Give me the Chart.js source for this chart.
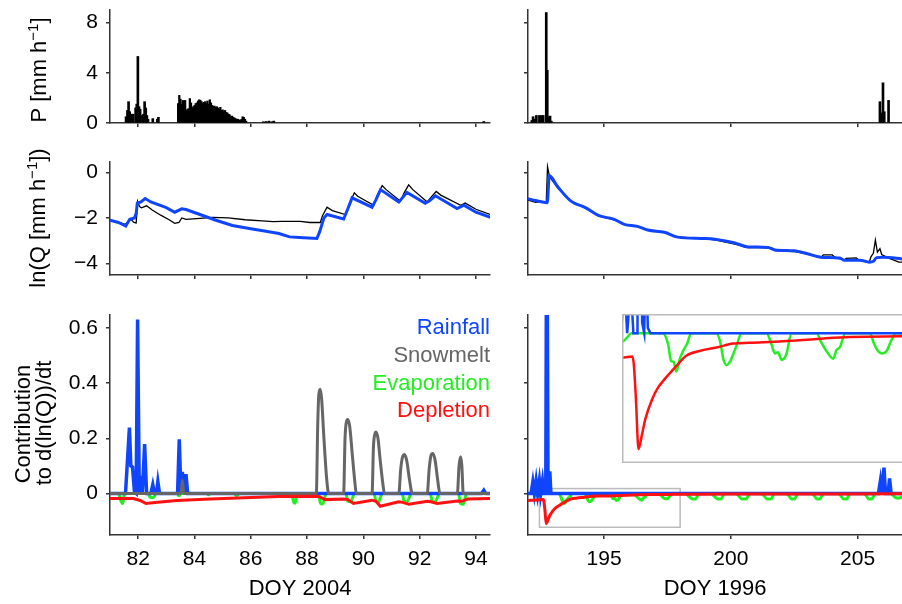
<!DOCTYPE html>
<html>
<head>
<meta charset="utf-8">
<script src="https://cdn.jsdelivr.net/npm/chart.js@4.4.1/dist/chart.umd.min.js"></script>
<style>
html, body { margin: 0; padding: 0; background: #fff; overflow: hidden; }
#wrap { position: relative; width: 902px; height: 604px; overflow: hidden; }
canvas { position: absolute; }
</style>
</head>
<body>
<div id="wrap">
  <canvas id="pLeft"></canvas>
  <canvas id="pRight"></canvas>
  <canvas id="qLeft"></canvas>
  <canvas id="qRight"></canvas>
  <canvas id="cLeft"></canvas>
  <canvas id="cRight"></canvas>
  <canvas id="cInset"></canvas>
</div>
<script>
// ---- tick labels ----
const ticks04 = [82, 84, 86, 88, 90, 92, 94];
const ticks96 = [195, 200, 205];
const pTicks = [0, 4, 8];
const qTicks = [-4, -2, 0];
const cTicks = [0, 0.2, 0.4, 0.6];

// ---- precipitation, 2004 (single showers) ----
const pDay04 = [81.57, 81.62, 81.66, 81.70, 81.78, 81.82, 81.91, 81.95, 81.99, 82.03, 82.07, 82.15, 82.19, 82.23, 82.27, 82.31, 82.35, 82.52, 82.68, 82.72, 86.45, 86.55, 86.65, 86.75, 86.82, 94.28];
const pVal04 = [0.5, 1.0, 1.7, 0.9, 0.7, 0.7, 1.2, 1.5, 5.3, 1.3, 1.1, 0.6, 0.7, 1.7, 1.2, 0.6, 0.3, 0.35, 0.3, 0.45, 0.1, 0.12, 0.15, 0.1, 0.15, 0.12];
// hourly block, 2004, starting at DOY 83.42
const pHourStart04 = 83.42;
const pHourly04 = [1.55, 2.2, 1.9, 1.5, 1.8, 1.75, 1.8, 1.0, 1.1, 1.15, 1.95, 1.6, 1.2, 1.3, 1.4, 1.55, 1.6, 1.75, 1.85, 1.8,
  1.7, 1.55, 1.65, 1.7, 1.55, 1.75, 1.5, 1.85, 1.6, 1.4, 1.3, 1.35, 1.25, 1.3, 1.2, 1.1, 1.25, 1.0, 1.05, 0.9,
  1.0, 0.85, 0.8, 0.7, 0.65, 0.5, 0.55, 0.45, 0.4, 0.35, 0.3, 0.3, 0.25, 0.2, 0.3, 0.5, 0.45, 0.3, 0.15];

// ---- precipitation, 1996 ----
const pDay96 = [192.15, 192.20, 192.27, 192.33, 192.45, 192.53, 192.60, 192.72, 192.76, 192.82, 192.87, 192.92, 205.88, 205.95, 206.00, 206.05, 206.22];
const pVal96 = [0.2, 0.5, 0.3, 0.6, 0.6, 0.6, 0.6, 8.8, 4.2, 0.5, 0.55, 0.15, 1.7, 0.8, 3.2, 0.9, 1.8];

// ---- ln(Q), 2004 ----
const qObsDay04 = [81.0, 81.3, 81.55, 81.65, 81.75, 81.85, 81.93, 81.98, 82.05, 82.12, 82.3, 82.5, 82.8, 83.1, 83.3, 83.45, 83.55, 83.7, 84.2, 84.64, 85.2, 85.8, 86.4, 86.8, 87.1, 87.76, 88.1, 88.47, 88.55, 88.71, 88.9, 89.36, 89.5, 89.68, 89.8, 90.37, 90.5, 90.67, 90.8, 91.32, 91.45, 91.61, 91.75, 92.27, 92.4, 92.59, 92.75, 93.46, 93.62, 94.0, 94.5];
const qObs04 = [-2.1, -2.2, -2.28, -2.15, -2.07, -2.2, -2.22, -1.27, -1.5, -1.56, -1.47, -1.65, -1.88, -2.08, -2.24, -2.2, -2.0, -2.06, -2.02, -1.98, -2.0, -2.08, -2.13, -2.16, -2.15, -2.15, -2.2, -2.2, -1.9, -1.53, -1.68, -1.85, -1.4, -0.9, -1.05, -1.45, -1.0, -0.58, -0.75, -1.27, -0.9, -0.55, -0.75, -1.3, -1.1, -0.84, -1.0, -1.45, -1.35, -1.62, -1.85];
const qModDay04 = [81.0, 81.3, 81.56, 81.7, 81.87, 81.93, 81.97, 82.1, 82.25, 82.45, 83.0, 83.3, 83.55, 83.7, 84.17, 84.76, 85.35, 85.95, 86.54, 87.0, 87.38, 87.73, 88.35, 88.45, 88.6, 88.71, 89.3, 89.45, 89.6, 90.31, 90.45, 90.61, 91.26, 91.4, 91.55, 92.2, 92.35, 92.56, 93.33, 93.57, 94.0, 94.52];
const qMod04 = [-2.1, -2.2, -2.36, -2.06, -2.0, -1.8, -1.35, -1.3, -1.15, -1.3, -1.55, -1.75, -1.6, -1.63, -1.84, -2.1, -2.33, -2.46, -2.58, -2.68, -2.83, -2.86, -2.9, -2.6, -2.0, -1.85, -2.05, -1.6, -1.12, -1.53, -1.2, -0.76, -1.3, -1.1, -0.88, -1.36, -1.25, -1.03, -1.59, -1.44, -1.75, -1.97];

// ---- ln(Q), 1996 ----
const qObsDay96 = [192.0, 192.3, 192.5, 192.72, 192.77, 192.85, 193.2, 193.75, 194.28, 194.74, 195.4, 195.8, 196.32, 196.72, 197.38, 197.9, 198.85, 199.37, 200.16, 200.68, 201.47, 201.74, 202.5, 203.02, 203.55, 203.65, 204.0, 204.1, 204.47, 204.55, 204.95, 205.05, 205.46, 205.53, 205.62, 205.7, 205.78, 205.88, 205.95, 206.2, 206.63, 206.8];
const qObs96 = [-1.22, -1.32, -1.28, -1.3, 0.24, -0.2, -0.73, -1.31, -1.57, -1.9, -2.09, -2.28, -2.38, -2.53, -2.63, -2.83, -2.91, -2.96, -3.15, -3.3, -3.3, -3.43, -3.47, -3.59, -3.74, -3.62, -3.62, -3.72, -3.85, -3.77, -3.75, -3.85, -3.94, -3.69, -3.55, -2.97, -3.5, -3.35, -3.6, -3.75, -3.94, -3.94];
const qModDay96 = [192.0, 192.3, 192.76, 192.84, 193.15, 193.68, 194.28, 194.8, 195.4, 195.8, 196.32, 196.72, 197.38, 197.9, 198.85, 199.37, 200.16, 200.68, 201.47, 201.74, 202.5, 203.02, 203.55, 204.3, 204.47, 205.1, 205.46, 205.62, 205.75, 206.0, 206.8];
const qMod96 = [-1.16, -1.24, -1.33, -0.14, -0.6, -1.25, -1.56, -1.9, -2.06, -2.28, -2.37, -2.53, -2.63, -2.84, -2.9, -2.93, -3.1, -3.27, -3.29, -3.4, -3.44, -3.57, -3.72, -3.76, -3.85, -3.85, -3.94, -3.9, -3.74, -3.72, -3.8];

// ---- contributions to d(ln(Q))/dt, 2004 ----
const rainDay04 = [81.0, 81.55, 81.69, 81.74, 81.8, 81.87, 81.93, 81.98, 82.04, 82.1, 82.15, 82.23, 82.3, 82.45, 82.52, 82.58, 82.65, 82.7, 82.76, 83.4, 83.46, 83.52, 83.57, 83.63, 83.7, 83.76, 94.2, 94.28, 94.35, 94.5];
const rain04 = [0, 0, 0.239, 0.1, 0.096, 0.005, 0, 0.63, 0.005, 0.064, 0.005, 0.179, 0, 0, 0.032, 0, 0, 0.043, 0, 0, 0.196, 0.005, 0.078, 0.005, 0.07, 0, 0, 0.012, 0, 0];
const snowDay04 = [81.0, 83.52, 83.57, 83.62, 88.33, 88.38, 88.42, 88.47, 88.52, 88.6, 88.7, 88.77, 89.3, 89.35, 89.4, 89.45, 89.52, 89.6, 89.7, 89.75, 90.31, 90.36, 90.41, 90.45, 90.52, 90.6, 90.7, 90.75, 91.26, 91.33, 91.4, 91.46, 91.54, 91.64, 91.74, 92.27, 92.34, 92.41, 92.47, 92.55, 92.64, 92.72, 93.34, 93.4, 93.46, 93.5, 93.55, 94.5];
const snow04 = [0, 0, 0.048, 0, 0, 0.25, 0.36, 0.377, 0.34, 0.2, 0.05, 0, 0, 0.2, 0.26, 0.268, 0.24, 0.15, 0.04, 0, 0, 0.17, 0.215, 0.223, 0.2, 0.12, 0.03, 0, 0, 0.09, 0.135, 0.141, 0.12, 0.05, 0, 0, 0.09, 0.14, 0.145, 0.12, 0.05, 0, 0, 0.1, 0.133, 0.1, 0, 0];
const evapDay04 = [81.0, 81.3, 81.4, 81.45, 81.52, 82.35, 82.42, 82.5, 82.58, 82.62, 83.38, 83.45, 83.52, 84.42, 84.5, 84.58, 85.4, 85.5, 85.6, 87.45, 87.52, 87.58, 87.65, 88.4, 88.48, 88.55, 88.62, 88.67, 89.38, 89.45, 89.55, 89.62, 89.68, 90.38, 90.45, 90.55, 90.62, 90.67, 91.38, 91.45, 91.55, 91.65, 91.7, 92.38, 92.45, 92.55, 92.65, 92.7, 93.38, 93.45, 93.55, 93.63, 93.68, 94.5];
const evap04 = [0, 0, -0.03, -0.036, 0, 0, -0.012, -0.015, -0.01, 0, 0, -0.008, 0, 0, -0.004, 0, 0, -0.008, 0, 0, -0.03, -0.035, 0, 0, -0.035, -0.038, -0.02, 0, 0, -0.028, -0.03, -0.015, 0, 0, -0.028, -0.03, -0.01, 0, 0, -0.028, -0.03, -0.01, 0, 0, -0.03, -0.03, -0.01, 0, 0, -0.035, -0.039, -0.01, 0, 0];
const deplDay04 = [81.0, 81.83, 82.07, 82.28, 82.6, 83.37, 84.56, 86.0, 87.0, 88.3, 88.45, 88.65, 89.3, 89.45, 89.65, 90.31, 90.45, 90.6, 91.26, 91.4, 91.62, 92.27, 92.4, 92.62, 93.34, 93.5, 93.7, 94.53];
const depl04 = [-0.018, -0.018, -0.025, -0.036, -0.032, -0.025, -0.02, -0.014, -0.011, -0.01, -0.012, -0.022, -0.02, -0.022, -0.036, -0.024, -0.028, -0.046, -0.03, -0.032, -0.039, -0.028, -0.03, -0.036, -0.027, -0.028, -0.02, -0.018];

// ---- contributions, 1996 ----
const rainDay96 = [192.0, 192.12, 192.19, 192.25, 192.32, 192.38, 192.45, 192.5, 192.57, 192.62, 192.7, 192.74, 192.79, 192.83, 192.86, 192.9, 192.95, 205.82, 205.9, 205.96, 206.04, 206.1, 206.2, 206.26, 206.32, 206.8];
const rain96 = [0, 0, 0.042, 0, 0.047, 0, 0.047, 0, 0.045, 0, 0, 1.2, 0.01, 0, 0.08, 0.005, 0, 0, 0.047, 0, 0.094, 0, 0, 0.055, 0, 0];
const evapDay96 = [192.0, 192.2, 192.35, 192.41, 192.5, 192.58, 193.19, 193.29, 193.35, 193.4, 193.45, 193.52, 193.58, 193.66, 193.74, 194.23, 194.3, 194.36, 194.42, 194.5, 194.55, 194.63, 194.71, 195.2, 195.29, 195.36, 195.42, 195.49, 195.58, 195.68, 196.17, 196.25, 196.36, 196.49, 196.55, 196.62, 196.72, 197.2, 197.28, 197.36, 197.43, 197.52, 197.62, 197.7,
  198.2, 198.45, 198.6, 198.75, 199.2, 199.45, 199.6, 199.75, 200.2, 200.45, 200.6, 200.75, 201.2, 201.45, 201.58, 201.72, 202.2, 202.4, 202.5, 202.65, 203.2, 203.4, 203.5, 203.65, 204.25, 204.45, 204.57, 204.7, 205.25, 205.45, 205.55, 205.7, 206.3, 206.5, 206.6, 206.8];
const evap96 = [0, 0, -0.008, -0.008, -0.004, 0, 0, -0.01, -0.026, -0.027, -0.036, -0.024, -0.017, -0.01, 0, 0, -0.008, -0.024, -0.03, -0.026, -0.02, -0.01, 0, 0, -0.01, -0.019, -0.018, -0.025, -0.02, 0, 0, -0.008, -0.017, -0.024, -0.016, -0.013, 0, 0, -0.01, -0.017, -0.019, -0.017, -0.006, 0,
  0, -0.018, -0.02, 0, 0, -0.018, -0.02, 0, 0, -0.02, -0.02, 0, 0, -0.02, -0.02, 0, 0, -0.02, -0.02, 0, 0, -0.02, -0.02, 0, 0, -0.02, -0.02, 0, 0, -0.02, -0.02, 0, 0, -0.015, -0.017, -0.01];
const deplDay96 = [192.0, 192.41, 192.6, 192.63, 192.67, 192.72, 192.78, 192.85, 192.98, 193.1, 193.23, 193.45, 193.65, 193.9, 194.23, 194.55, 194.87, 195.52, 196.17, 196.81, 197.79, 200.0, 206.8];
const depl96 = [-0.025, -0.023, -0.022, -0.03, -0.0625, -0.109, -0.097, -0.081, -0.0625, -0.051, -0.043, -0.031, -0.021, -0.0167, -0.0135, -0.0098, -0.009, -0.0076, -0.0054, -0.0035, -0.003, -0.002, -0.001];

// zoomed window shown in the inset
const zoomBoxX = [192.45, 198.0];
const zoomBoxY = [-0.122, 0.018];
const insetX = [192.40, 197.82];

// ---- styling ----
const FONT = "'Liberation Sans', Arial, Helvetica, sans-serif";
const AXIS = '#333333';
const C_RAIN = '#0f45ff';
const C_SNOW = '#666666';
const C_EVAP = '#22ee22';
const C_DEPL = '#ff1111';

function pts(xs, ys) {
  return xs.map((x, i) => ({ x: x, y: ys[i] }));
}

function hourly(start, vals) {
  return vals.map((v, i) => ({ x: start + i / 24, y: v }));
}

function fixTicks(list) {
  return function (s) { s.ticks = list.map(v => ({ value: v })); };
}

function xAxis(min, max, tickList, showLabels, title, h) {
  return {
    type: 'linear', min: min, max: max, offset: false,
    afterBuildTicks: fixTicks(tickList),
    afterFit: function (s) { s.height = h; s.paddingLeft = 0; s.paddingRight = 0; },
    grid: { drawOnChartArea: false, drawTicks: true, tickLength: 4, color: AXIS, lineWidth: 1.5, offset: false },
    border: { display: true, color: AXIS, width: 1.5 },
    ticks: { display: showLabels, autoSkip: false, maxRotation: 0, padding: 8, color: '#000', font: { family: FONT, size: 21 } },
    title: title ? { display: true, text: title, color: '#000', font: { family: FONT, size: 22 }, padding: { top: 0, bottom: 2 } } : { display: false }
  };
}

function yAxis(min, max, tickList, showLabels, w) {
  return {
    type: 'linear', min: min, max: max,
    afterBuildTicks: fixTicks(tickList),
    afterFit: function (s) { s.width = w; s.paddingTop = 0; s.paddingBottom = 0; },
    grid: { drawOnChartArea: false, drawTicks: true, tickLength: 4, color: AXIS, lineWidth: 1.5 },
    border: { display: true, color: AXIS, width: 1.5 },
    ticks: {
      display: showLabels, autoSkip: false, padding: 8, color: '#000', font: { family: FONT, size: 21 },
      callback: v => String(v).replace('-', '\u2212')
    }
  };
}

// smooth = monotone curve (no overshoot), used for recession / melt curves
function line(data, color, width, smooth) {
  const d = { type: 'line', data: data, borderColor: color, borderWidth: width, pointRadius: 0, tension: 0, fill: false };
  if (smooth) d.cubicInterpolationMode = 'monotone';
  return d;
}

function bars(data, thick) {
  return { type: 'bar', data: data, backgroundColor: '#000', borderWidth: 0, barThickness: thick, grouped: false };
}

// rotated axis title with a superscript part
function rotatedTitle(ctx, x, y, parts) {
  ctx.save();
  ctx.translate(x, y);
  ctx.rotate(-Math.PI / 2);
  ctx.fillStyle = '#000';
  ctx.textAlign = 'left';
  ctx.textBaseline = 'alphabetic';
  let total = 0;
  const widths = parts.map(p => {
    ctx.font = (p.sup ? 15 : 22) + 'px ' + FONT;
    const w = ctx.measureText(p.t).width;
    total += w;
    return w;
  });
  let pos = -total / 2;
  parts.forEach((p, i) => {
    ctx.font = (p.sup ? 15 : 22) + 'px ' + FONT;
    ctx.fillText(p.t, pos, p.sup ? -8 : 0);
    pos += widths[i];
  });
  ctx.restore();
}

function panel(id, left, top, w, h, config) {
  const c = document.getElementById(id);
  c.width = w;
  c.height = h;
  c.style.left = left + 'px';
  c.style.top = top + 'px';
  c.style.width = w + 'px';
  c.style.height = h + 'px';
  config.options = Object.assign({ responsive: false, animation: false, events: [], devicePixelRatio: 1 }, config.options);
  config.options.plugins = { legend: { display: false }, tooltip: { enabled: false } };
  return new Chart(c, config);
}

// ---- precipitation ----
panel('pLeft', 0, 0, 500, 140, {
  type: 'bar',
  data: { datasets: [bars(pts(pDay04, pVal04), 2), bars(hourly(pHourStart04, pHourly04), 1.6)] },
  options: {
    layout: { padding: { top: 10, right: 10, left: 0, bottom: 0 } },
    scales: { x: xAxis(81, 94.5, ticks04, false, null, 17), y: yAxis(0, 9, pTicks, true, 110) }
  },
  plugins: [{ id: 'ttl', afterDraw(ch) {
    rotatedTitle(ch.ctx, 46, 70, [{ t: 'P [mm h' }, { t: '\u22121', sup: true }, { t: ']' }]);
  } }]
});

panel('pRight', 500, 0, 402, 140, {
  type: 'bar',
  data: { datasets: [bars(pts(pDay96, pVal96), 2)] },
  options: {
    layout: { padding: { top: 10, right: 0, left: 0, bottom: 0 } },
    scales: { x: xAxis(192, 206.75, ticks96, false, null, 17), y: yAxis(0, 9, pTicks, false, 28) }
  }
});

// ---- ln(Q) ----
panel('qLeft', 0, 140, 500, 155, {
  type: 'line',
  data: { datasets: [line(pts(qModDay04, qMod04), C_RAIN, 3), line(pts(qObsDay04, qObs04), '#000', 1.3)] },
  options: {
    layout: { padding: { top: 22, right: 10, left: 0, bottom: 0 } },
    scales: { x: xAxis(81, 94.5, ticks04, false, null, 20), y: yAxis(-4.5, 0.45, qTicks, true, 110) }
  },
  plugins: [{ id: 'ttl', afterDraw(ch) {
    rotatedTitle(ch.ctx, 45, 78, [{ t: 'ln(Q [mm h' }, { t: '\u22121', sup: true }, { t: '])' }]);
  } }]
});

panel('qRight', 500, 140, 402, 155, {
  type: 'line',
  data: { datasets: [line(pts(qModDay96, qMod96), C_RAIN, 3, true), line(pts(qObsDay96, qObs96), '#000', 1.3)] },
  options: {
    layout: { padding: { top: 22, right: 0, left: 0, bottom: 0 } },
    scales: { x: xAxis(192, 206.75, ticks96, false, null, 20), y: yAxis(-4.5, 0.45, qTicks, false, 28) }
  }
});

// ---- contributions ----
const legendItems = [['Rainfall', C_RAIN], ['Snowmelt', C_SNOW], ['Evaporation', C_EVAP], ['Depletion', C_DEPL]];

panel('cLeft', 0, 295, 500, 309, {
  type: 'line',
  data: { datasets: [
    line(pts(deplDay04, depl04), C_DEPL, 3),
    line(pts(snowDay04, snow04), C_SNOW, 3, true),
    line(pts(rainDay04, rain04), C_RAIN, 3.5),
    line(pts(evapDay04, evap04), C_EVAP, 3, true)
  ] },
  options: {
    layout: { padding: { top: 20, right: 10, left: 0, bottom: 0 } },
    scales: { x: xAxis(81, 94.5, ticks04, true, 'DOY 2004', 69), y: yAxis(-0.15, 0.646, cTicks, true, 110) }
  },
  plugins: [{ id: 'ttl', afterDraw(ch) {
    const ctx = ch.ctx;
    rotatedTitle(ctx, 30, 129, [{ t: 'Contribution' }]);
    rotatedTitle(ctx, 51, 128, [{ t: 'to d(ln(Q))/dt' }]);
    ctx.save();
    ctx.font = '22px ' + FONT;
    ctx.textAlign = 'right';
    ctx.textBaseline = 'alphabetic';
    legendItems.forEach((it, i) => {
      ctx.fillStyle = it[1];
      ctx.fillText(it[0], ch.chartArea.right, ch.chartArea.top + 19 + i * 27.8);
    });
    ctx.restore();
  } }]
});

panel('cRight', 500, 295, 402, 309, {
  type: 'line',
  data: { datasets: [
    line(pts(deplDay96, depl96), C_DEPL, 3, true),
    line(pts(rainDay96, rain96), C_RAIN, 3.5),
    line(pts(evapDay96, evap96), C_EVAP, 3, true)
  ] },
  options: {
    layout: { padding: { top: 20, right: 0, left: 0, bottom: 0 } },
    scales: { x: xAxis(192, 206.75, ticks96, true, 'DOY 1996', 69), y: yAxis(-0.15, 0.646, cTicks, false, 28) }
  },
  plugins: [{ id: 'box', beforeDatasetsDraw(ch) {
    const xs = ch.scales.x, ys = ch.scales.y, ctx = ch.ctx;
    const l = xs.getPixelForValue(zoomBoxX[0]), r = xs.getPixelForValue(zoomBoxX[1]);
    const t = ys.getPixelForValue(zoomBoxY[1]), b = ys.getPixelForValue(zoomBoxY[0]);
    ctx.save();
    ctx.strokeStyle = '#bbbbbb';
    ctx.lineWidth = 1.5;
    ctx.strokeRect(l, t, r - l, b - t);
    ctx.restore();
  } }]
});

// ---- inset: zoom of the recession after the DOY 192.7 storm ----
function insetLine(data, color, smooth) {
  const d = line(data, color, 2.5, smooth);
  d.clip = 0;
  return d;
}

panel('cInset', 622, 314, 280, 149, {
  type: 'line',
  data: { datasets: [
    insetLine(pts(deplDay96, depl96), C_DEPL, true),
    insetLine(pts(rainDay96, rain96), C_RAIN, false),
    insetLine(pts(evapDay96, evap96), C_EVAP, true)
  ] },
  options: {
    layout: { padding: 0 },
    scales: {
      x: { type: 'linear', display: false, min: insetX[0], max: insetX[1] },
      y: { type: 'linear', display: false, min: zoomBoxY[0], max: zoomBoxY[1] }
    }
  },
  plugins: [{ id: 'frame',
    beforeDatasetsDraw(ch) {
      const a = ch.chartArea;
      ch.ctx.save();
      ch.ctx.fillStyle = '#fff';
      ch.ctx.fillRect(a.left, a.top, a.right - a.left, a.bottom - a.top);
      ch.ctx.restore();
    },
    afterDraw(ch) {
      const ctx = ch.ctx, a = ch.chartArea;
      ctx.save();
      ctx.strokeStyle = '#bbbbbb';
      ctx.lineWidth = 1.5;
      ctx.beginPath();
      ctx.moveTo(a.right + 2, a.top + 0.75);
      ctx.lineTo(a.left + 0.75, a.top + 0.75);
      ctx.lineTo(a.left + 0.75, a.bottom - 0.75);
      ctx.lineTo(a.right + 2, a.bottom - 0.75);
      ctx.stroke();
      ctx.restore();
    }
  }]
});
</script>
</body>
</html>
